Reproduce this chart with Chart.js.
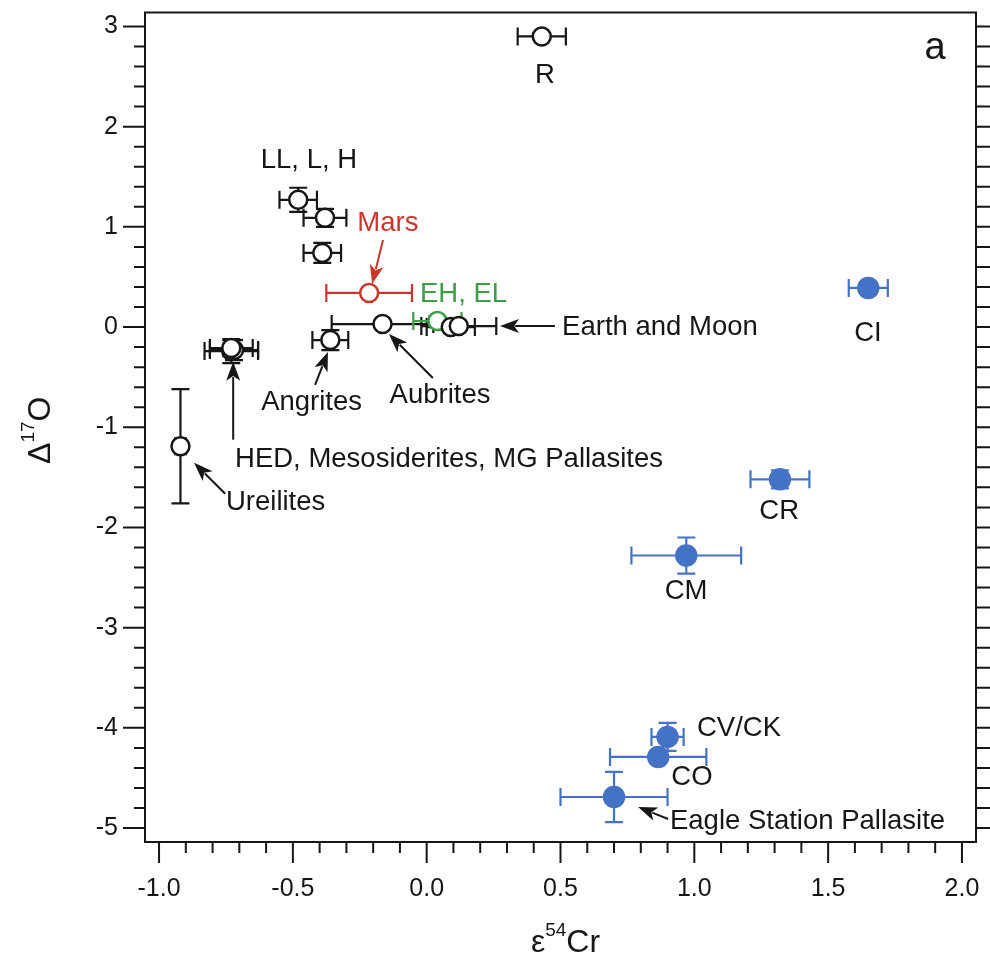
<!DOCTYPE html>
<html>
<head>
<meta charset="utf-8">
<script src="https://cdn.jsdelivr.net/npm/chart.js@4.4.0/dist/chart.umd.min.js"></script>
<style>
  html, body { margin: 0; padding: 0; background: #fff; }
  #wrap { width: 990px; height: 967px; }
</style>
</head>
<body>
<div id="wrap"><canvas id="myChart" width="990" height="967"></canvas></div>
<script>
// meteorite groups, e54Cr against D17O
const names = ['R', 'LL', 'L', 'H', 'Mars', 'EH, EL', 'Earth', 'Moon', 'Aubrites', 'Angrites',
  'HED', 'Mesosiderites', 'MG Pallasites', 'Ureilites', 'CI', 'CR', 'CM', 'CV/CK', 'CO', 'Eagle Station'];
const cr54 = [0.43, -0.48, -0.38, -0.39, -0.215, 0.04, 0.09, 0.12, -0.165, -0.36,
  -0.73, -0.72, -0.73, -0.92, 1.65, 1.32, 0.97, 0.90, 0.865, 0.70];
const o17 = [2.90, 1.27, 1.09, 0.74, 0.34, 0.06, 0.00, 0.01, 0.03, -0.13,
  -0.24, -0.23, -0.21, -1.19, 0.39, -1.52, -2.28, -4.09, -4.29, -4.69];
const cr54Err = [0.09, 0.07, 0.08, 0.07, 0.16, 0.09, 0.09, 0.14, 0.19, 0.067,
  0.10, 0.09, 0.08, 0.02, 0.073, 0.11, 0.205, 0.06, 0.18, 0.20];
const o17Err = [0.03, 0.12, 0.09, 0.10, 0, 0.05, 0.02, 0.02, 0.02, 0.10,
  0.12, 0.10, 0.08, 0.57, 0.05, 0.09, 0.18, 0.14, 0.04, 0.25];
const kind = ['ord', 'ord', 'ord', 'ord', 'mars', 'ens', 'ord', 'ord', 'ord', 'ord',
  'ord', 'ord', 'ord', 'ord', 'carb', 'carb', 'carb', 'carb', 'carb', 'carb'];

const xTicks = [-1.0, -0.5, 0.0, 0.5, 1.0, 1.5, 2.0];
const yTicks = [-5, -4, -3, -2, -1, 0, 1, 2, 3];

const BLUE = '#4472c4';
const RED = '#c9372c';
const GREEN = '#3f9c48';
const INK = '#161616';
const FONT = '"Liberation Sans", Arial, sans-serif';

// text labels and arrows, placed in axis units
const labels = [
  { t: 'R', x: 0.442, y: 2.51 },
  { t: 'LL, L, H', x: -0.44, y: 1.66 },
  { t: 'Mars', x: -0.145, y: 1.03, c: RED },
  { t: 'EH, EL', x: -0.025, y: 0.33, c: GREEN, a: 'left' },
  { t: 'Earth and Moon', x: 0.506, y: 0.0, a: 'left' },
  { t: 'CI', x: 1.649, y: -0.06 },
  { t: 'Angrites', x: -0.43, y: -0.756 },
  { t: 'Aubrites', x: 0.05, y: -0.687 },
  { t: 'HED, Mesosiderites, MG Pallasites', x: -0.716, y: -1.324, a: 'left' },
  { t: 'Ureilites', x: -0.75, y: -1.753, a: 'left' },
  { t: 'CR', x: 1.317, y: -1.842 },
  { t: 'CM', x: 0.969, y: -2.639 },
  { t: 'CV/CK', x: 1.01, y: -4.003, a: 'left' },
  { t: 'CO', x: 0.991, y: -4.49 },
  { t: 'Eagle Station Pallasite', x: 0.909, y: -4.93, a: 'left' }
];
const arrows = [
  { from: [-0.163, 0.868], to: [-0.204, 0.43], c: RED },
  { from: [0.479, 0.01], to: [0.274, 0.01] },
  { from: [-0.417, -0.577], to: [-0.369, -0.248] },
  { from: [0.023, -0.508], to: [-0.141, -0.069] },
  { from: [-0.723, -1.124], to: [-0.723, -0.347] },
  { from: [-0.753, -1.663], to: [-0.869, -1.354] },
  { from: [0.902, -4.91], to: [0.79, -4.79] }
];

const styles = {
  ord: { fill: '#ffffff', stroke: INK, radius: 9 },
  mars: { fill: '#ffffff', stroke: RED, radius: 9 },
  ens: { fill: '#ffffff', stroke: GREEN, radius: 9 },
  carb: { fill: BLUE, stroke: BLUE, radius: 10 }
};

const datasets = Object.keys(styles).map(k => ({
  label: k,
  data: names.map((n, i) => ({ x: cr54[i], y: o17[i], xErr: cr54Err[i], yErr: o17Err[i], k: kind[i] }))
    .filter(p => p.k === k),
  backgroundColor: styles[k].fill,
  borderColor: styles[k].stroke,
  borderWidth: 2.5,
  pointRadius: styles[k].radius,
  pointHoverRadius: styles[k].radius
}));

// error bars go under the markers
const errorBars = {
  id: 'errorBars',
  beforeDatasetsDraw(chart) {
    const { ctx, scales: { x, y } } = chart;
    const cap = 9;
    ctx.save();
    ctx.lineWidth = 2.2;
    chart.data.datasets.forEach(ds => {
      ctx.strokeStyle = ds.borderColor;
      ds.data.forEach(p => {
        const px = x.getPixelForValue(p.x);
        const py = y.getPixelForValue(p.y);
        ctx.beginPath();
        if (p.xErr) {
          const l = x.getPixelForValue(p.x - p.xErr);
          const r = x.getPixelForValue(p.x + p.xErr);
          ctx.moveTo(l, py); ctx.lineTo(r, py);
          ctx.moveTo(l, py - cap); ctx.lineTo(l, py + cap);
          ctx.moveTo(r, py - cap); ctx.lineTo(r, py + cap);
        }
        if (p.yErr) {
          const t = y.getPixelForValue(p.y + p.yErr);
          const b = y.getPixelForValue(p.y - p.yErr);
          ctx.moveTo(px, t); ctx.lineTo(px, b);
          ctx.moveTo(px - cap, t); ctx.lineTo(px + cap, t);
          ctx.moveTo(px - cap, b); ctx.lineTo(px + cap, b);
        }
        ctx.stroke();
      });
    });
    ctx.restore();
  }
};

function drawSup(ctx, parts, size) {
  const big = `${size}px ${FONT}`;
  const small = `${Math.round(size * 0.6)}px ${FONT}`;
  let w = 0;
  parts.forEach(p => { ctx.font = p[1] ? small : big; w += ctx.measureText(p[0]).width; });
  let cx = -w / 2;
  ctx.textAlign = 'left';
  ctx.textBaseline = 'alphabetic';
  parts.forEach(p => {
    ctx.font = p[1] ? small : big;
    ctx.fillText(p[0], cx, p[1] ? -size * 0.5 : 0);
    cx += ctx.measureText(p[0]).width;
  });
}

// frame, tick marks, annotations, axis titles
const frame = {
  id: 'frame',
  afterDraw(chart) {
    const { ctx, chartArea: a, scales: { x, y } } = chart;
    ctx.save();
    ctx.strokeStyle = INK;
    ctx.lineWidth = 2;
    ctx.strokeRect(a.left, a.top, a.right - a.left, a.bottom - a.top);

    ctx.beginPath();
    for (let i = -10; i <= 20; i++) {
      const px = x.getPixelForValue(i / 10);
      const len = i % 5 === 0 ? 21 : 11;
      ctx.moveTo(px, a.bottom); ctx.lineTo(px, a.bottom + len);
    }
    for (let j = -25; j <= 15; j++) {
      const py = y.getPixelForValue(j / 5);
      const len = j % 5 === 0 ? 22 : 11;
      ctx.moveTo(a.left - len, py); ctx.lineTo(a.left, py);
      ctx.moveTo(a.right, py); ctx.lineTo(a.right + 14, py);
    }
    ctx.stroke();

    ctx.font = `27.5px ${FONT}`;
    ctx.textBaseline = 'middle';
    labels.forEach(l => {
      ctx.fillStyle = l.c || INK;
      ctx.textAlign = l.a || 'center';
      ctx.fillText(l.t, x.getPixelForValue(l.x), y.getPixelForValue(l.y));
    });

    arrows.forEach(ar => {
      const x0 = x.getPixelForValue(ar.from[0]), y0 = y.getPixelForValue(ar.from[1]);
      const x1 = x.getPixelForValue(ar.to[0]), y1 = y.getPixelForValue(ar.to[1]);
      const ang = Math.atan2(y1 - y0, x1 - x0);
      const hl = 19, hw = 7;
      ctx.strokeStyle = ar.c || INK;
      ctx.fillStyle = ar.c || INK;
      ctx.lineWidth = 2;
      ctx.beginPath();
      ctx.moveTo(x0, y0);
      ctx.lineTo(x1 - Math.cos(ang) * hl * 0.8, y1 - Math.sin(ang) * hl * 0.8);
      ctx.stroke();
      ctx.beginPath();
      ctx.moveTo(x1, y1);
      ctx.lineTo(x1 - Math.cos(ang) * hl - Math.sin(ang) * hw, y1 - Math.sin(ang) * hl + Math.cos(ang) * hw);
      ctx.lineTo(x1 - Math.cos(ang) * hl * 0.75, y1 - Math.sin(ang) * hl * 0.75);
      ctx.lineTo(x1 - Math.cos(ang) * hl + Math.sin(ang) * hw, y1 - Math.sin(ang) * hl - Math.cos(ang) * hw);
      ctx.closePath();
      ctx.fill();
    });

    ctx.fillStyle = INK;
    ctx.font = `38px ${FONT}`;
    ctx.textAlign = 'center';
    ctx.fillText('a', x.getPixelForValue(1.9), y.getPixelForValue(2.78));

    ctx.save();
    ctx.translate((a.left + a.right) / 2 + 5, 952);
    drawSup(ctx, [['ε', false], ['54', true], ['Cr', false]], 32);
    ctx.restore();

    ctx.save();
    ctx.translate(50, (a.top + a.bottom) / 2 + 3);
    ctx.rotate(-Math.PI / 2);
    drawSup(ctx, [['Δ', false], ['17', true], ['O', false]], 32);
    ctx.restore();

    ctx.restore();
  }
};

// keep the first/last tick labels from pushing the plot area inwards
const noEdgePad = s => {
  s.paddingLeft = 0; s.paddingRight = 0; s.paddingTop = 0; s.paddingBottom = 0;
};

const ctx = document.getElementById('myChart');
new Chart(ctx, {
  type: 'scatter',
  data: { datasets },
  options: {
    responsive: false,
    devicePixelRatio: 1,
    animation: false,
    layout: { padding: { left: 0, right: 14, top: 12, bottom: 0 } },
    plugins: { legend: { display: false }, tooltip: { enabled: false } },
    scales: {
      x: {
        min: -1.0525,
        max: 2.0525,
        afterBuildTicks: s => { s.ticks = xTicks.map(v => ({ value: v })); },
        afterFit: s => { s.height = 125; noEdgePad(s); },
        grid: { display: false, drawTicks: false },
        border: { display: false },
        ticks: { color: INK, font: { size: 25, family: FONT }, padding: 32, callback: v => v.toFixed(1) }
      },
      y: {
        min: -5.139,
        max: 3.139,
        afterBuildTicks: s => { s.ticks = yTicks.map(v => ({ value: v })); },
        afterFit: s => { s.width = 145; noEdgePad(s); },
        grid: { display: false, drawTicks: false },
        border: { display: false },
        ticks: { color: INK, font: { size: 25, family: FONT }, padding: 27, callback: v => String(v) }
      }
    }
  },
  plugins: [errorBars, frame]
});
</script>
</body>
</html>
